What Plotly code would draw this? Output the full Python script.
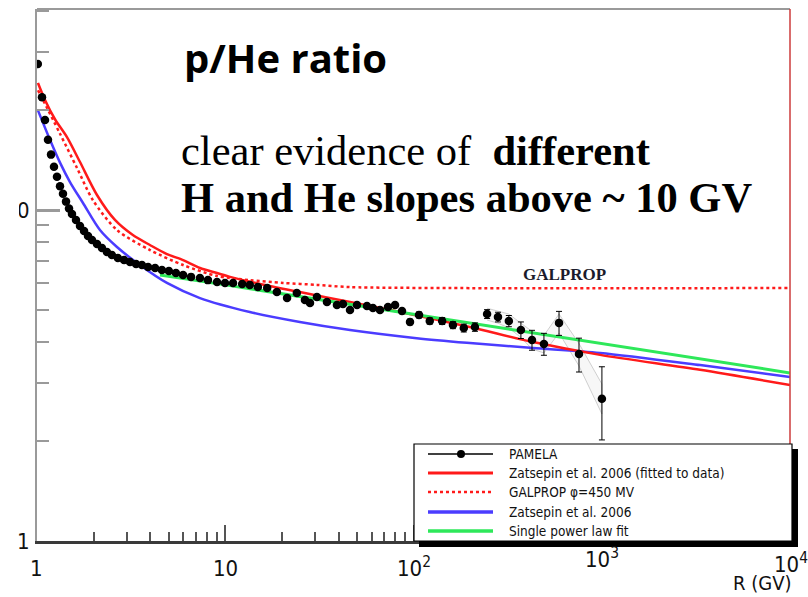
import math
import plotly.graph_objects as go

# ---- PAMELA p/He flux ratio vs rigidity ----
pamela_R = [1.01, 1.063, 1.103, 1.144, 1.187, 1.231, 1.277, 1.325, 1.374, 1.426,
            1.479, 1.534, 1.611, 1.692, 1.778, 1.866, 1.96, 2.083, 2.214, 2.353,
            2.50, 2.69, 2.90, 3.12, 3.36, 3.61, 3.89, 4.24, 4.61, 5.02,
            5.47, 5.97, 6.58, 7.34, 8.09, 9.04, 9.97, 11.0, 12.3, 13.5,
            14.9, 16.7, 18.8, 21.3, 24.0, 26.5, 28.2, 30.7, 34.7, 39.2,
            42.2, 46.0, 50.1, 56.6, 60.9, 66.4, 73.2, 79.8, 86.9, 95.8,
            107, 122, 142, 162, 185, 212, 246, 281, 321, 372,
            426, 493, 593, 757, 1002]
pamela_ratio = [27.6, 21.9, 18.7, 16.3, 14.7, 13.5, 12.6, 11.8, 11.2, 10.6,
                10.1, 9.72, 9.33, 8.95, 8.64, 8.35, 8.11, 7.89, 7.68, 7.47,
                7.31, 7.16, 7.06, 6.96, 6.87, 6.82, 6.73, 6.68, 6.59, 6.54,
                6.45, 6.36, 6.28, 6.23, 6.14, 6.06, 6.02, 6.02, 5.98, 5.94,
                5.85, 5.81, 5.65, 5.42, 5.61, 5.35, 5.24, 5.46, 5.27, 5.16,
                5.20, 4.99, 5.16, 5.13, 5.06, 4.99, 5.09, 5.16, 4.95, 4.59,
                4.82, 4.62, 4.62, 4.49, 4.40, 4.43, 4.85, 4.75, 4.62, 4.34,
                4.05, 3.94, 4.56, 3.67, 2.69]
pamela_err = [0.10, 0.08, 0.07, 0.06, 0.05, 0.05, 0.05, 0.04, 0.04, 0.04,
              0.04, 0.04, 0.04, 0.04, 0.04, 0.04, 0.04, 0.04, 0.04, 0.04,
              0.04, 0.04, 0.04, 0.04, 0.04, 0.04, 0.04, 0.04, 0.04, 0.04,
              0.04, 0.04, 0.04, 0.04, 0.04, 0.04, 0.04, 0.04, 0.04, 0.05,
              0.05, 0.05, 0.05, 0.05, 0.05, 0.05, 0.05, 0.06, 0.06, 0.06,
              0.06, 0.06, 0.07, 0.07, 0.07, 0.08, 0.08, 0.08, 0.09, 0.09,
              0.10, 0.10, 0.11, 0.11, 0.12, 0.13, 0.15, 0.16, 0.18, 0.25,
              0.28, 0.30, 0.38, 0.43, 0.67]

# systematic band at the highest rigidities
sys_R = [246, 281, 321, 372, 426, 493, 593, 757, 1002]
sys_hi = [5.05, 4.95, 4.85, 4.55, 4.30, 4.18, 4.85, 3.95, 2.98]
sys_lo = [4.65, 4.55, 4.40, 4.12, 3.80, 3.70, 4.25, 3.38, 2.42]

# ---- model curves ----
zats_fit_R = [1.012, 1.103, 1.246, 1.443, 1.692, 2.083, 2.595, 3.23, 3.98, 4.90,
              5.97, 7.34, 9.04, 10.6, 15.3, 24.9, 46.0, 84.8, 199, 432, 980, 3330, 10000]
zats_fit_ratio = [24.2, 21.5, 18.8, 16.6, 13.96, 11.1, 9.33, 8.40, 7.84, 7.36,
                  7.06, 6.68, 6.45, 6.28, 5.98, 5.65, 5.27, 4.92, 4.43, 3.99, 3.65, 3.29, 2.96]

galprop_R = [1.012, 1.076, 1.325, 1.631, 1.983, 2.66, 3.98, 5.97, 9.04, 13.5,
             20.3, 30.7, 46.0, 156, 10000]
galprop_ratio = [23.0, 21.5, 17.0, 13.4, 10.7, 8.70, 7.57, 6.82, 6.32, 6.14,
                 6.02, 5.94, 5.85, 5.81, 5.81]

zats_R = [1.012, 1.172, 1.325, 1.497, 1.755, 2.16, 2.66, 3.52, 4.90, 7.34,
          13.5, 24.9, 46.0, 104, 192, 432, 980, 3330, 10000]
zats_ratio = [20.0, 16.3, 13.9, 12.15, 10.5, 8.70, 7.73, 6.82, 6.02, 5.42,
              4.92, 4.59, 4.34, 4.10, 3.97, 3.83, 3.70, 3.40, 3.13]

plfit_R = [4.5, 10, 100, 1000, 10000]
plfit_ratio = [6.36, 5.94, 4.84, 3.95, 3.22]

x_tick_vals = [1, 10, 100, 1000, 10000]
x_tick_text = ["1", "10", "10<sup>2</sup>", "10<sup>3</sup>", "10<sup>4</sup>"]
y_tick_vals = [1, 10]
y_tick_text = ["1", "10"]

legend_labels = ["PAMELA", "Zatsepin et al. 2006 (fitted to data)", "GALPROP \u03c6=450 MV",
                 "Zatsepin et al. 2006", "Single power law fit"]

RED = "#ff1a1a"
BLUE = "#4b3cff"
GREEN = "#2ee85a"

# ---- canvas geometry (pixels) ----
W, H = 808, 597
ML, MR, MT, MB = 37, 18, 9, 56
PW, PH = W - ML - MR, H - MT - MB


def px(x):
    return (x - ML) / PW


def py(y):
    return (H - MB - y) / PH


NARROW = "Liberation Sans Narrow, Arial Narrow, DejaVu Sans Condensed, sans-serif"
SERIF = "Liberation Serif, Times New Roman, serif"

fig = go.Figure()

fig.add_trace(go.Scatter(
    x=sys_R + sys_R[::-1], y=sys_hi + sys_lo[::-1], mode="lines", fill="toself",
    fillcolor="rgba(190,190,190,0.12)", line=dict(color="rgba(150,150,150,0.55)", width=0.8),
    hoverinfo="skip", showlegend=False))

fig.add_trace(go.Scatter(x=galprop_R, y=galprop_ratio, mode="lines",
                         line=dict(color=RED, width=2.5, dash="dot", shape="spline", smoothing=0.8),
                         name=legend_labels[2]))
fig.add_trace(go.Scatter(x=zats_R, y=zats_ratio, mode="lines",
                         line=dict(color=BLUE, width=2.5, shape="spline", smoothing=0.8),
                         name=legend_labels[3]))
fig.add_trace(go.Scatter(x=zats_fit_R, y=zats_fit_ratio, mode="lines",
                         line=dict(color=RED, width=2.5, shape="spline", smoothing=0.8),
                         name=legend_labels[1]))
fig.add_trace(go.Scatter(x=plfit_R, y=plfit_ratio, mode="lines",
                         line=dict(color=GREEN, width=3), name=legend_labels[4]))
fig.add_trace(go.Scatter(
    x=pamela_R, y=pamela_ratio, mode="markers", name=legend_labels[0],
    marker=dict(color="black", size=8.5),
    error_y=dict(type="data", array=pamela_err, color="black", thickness=1, width=3)))

fig.update_xaxes(
    type="log", range=[0, 4], showgrid=False, zeroline=False,
    showline=True, linecolor="#3a3a3a", linewidth=3,
    tickmode="array", tickvals=x_tick_vals, ticks="inside", ticklen=16,
    tickcolor="#555", tickwidth=1.5, showticklabels=False,
    minor=dict(tickmode="array",
               tickvals=[m * 10 ** e for e in range(4) for m in range(2, 10)],
               ticks="inside", ticklen=9, tickcolor="#555", tickwidth=1.5))
fig.update_yaxes(
    type="log", range=[0, PH / 331], showgrid=False, zeroline=False,
    showline=True, linecolor="#9a9a9a", linewidth=2,
    tickmode="array", tickvals=y_tick_vals, ticktext=y_tick_text,
    ticks="inside", ticklen=23, tickcolor="#9a9a9a", tickwidth=2.5,
    ticklabelstandoff=1,
    tickfont=dict(family=NARROW, size=22, color="#111"),
    minor=dict(tickmode="array", tickvals=[2, 3, 4, 5, 6, 7, 8, 9, 20, 30, 40],
               ticks="inside", ticklen=12, tickcolor="#9a9a9a", tickwidth=2))

shapes = []
# frame pieces
shapes.append(dict(type="line", xref="paper", yref="paper", x0=0, x1=1, y0=1, y1=1,
                   line=dict(color="#9a9a9a", width=2), layer="above"))
shapes.append(dict(type="line", xref="paper", yref="paper", x0=1, x1=1, y0=py(444), y1=1,
                   line=dict(color="#cc3b3b", width=1.5), layer="above"))
# page edge strip over the far left of the axis labels
shapes.append(dict(type="rect", xref="paper", yref="paper", x0=px(-5), x1=px(19),
                   y0=py(230), y1=py(190), fillcolor="white", line=dict(width=0), layer="above"))

# legend box with drop shadow
shapes.append(dict(type="rect", xref="paper", yref="paper", x0=px(419), x1=px(798),
                   y0=py(547), y1=py(449), fillcolor="black", line=dict(width=0), layer="above"))
shapes.append(dict(type="rect", xref="paper", yref="paper", x0=px(414), x1=px(792),
                   y0=py(541), y1=py(444), fillcolor="white",
                   line=dict(color="black", width=1.2), layer="above"))

rows_y = [454, 473, 492, 512, 531]
sample_styles = [dict(color="black", width=1.3),
                 dict(color=RED, width=3),
                 dict(color=RED, width=2.5, dash="dot"),
                 dict(color=BLUE, width=3.5),
                 dict(color=GREEN, width=3.5)]
for yy, st in zip(rows_y, sample_styles):
    shapes.append(dict(type="line", xref="paper", yref="paper", x0=px(428), x1=px(493),
                       y0=py(yy), y1=py(yy), line=st, layer="above"))
shapes.append(dict(type="circle", xref="paper", yref="paper", x0=px(457), x1=px(465),
                   y0=py(458), y1=py(450), fillcolor="black", line=dict(width=0), layer="above"))

annotations = []
for yy, lab in zip(rows_y, legend_labels):
    annotations.append(dict(text=lab, xref="paper", yref="paper", x=px(507), y=py(yy),
                            xanchor="left", yanchor="middle", showarrow=False,
                            font=dict(family=NARROW, size=13.5, color="#111")))

# x tick labels (pixel centre x, pixel bottom of label box)
x_label_pos = [(36, 583), (225, 583), (414, 583), (602, 574), (791, 579)]
for val, txt, (xp, yb) in zip(x_tick_vals, x_tick_text, x_label_pos):
    annotations.append(dict(text=txt, xref="x", yref="paper", x=math.log10(val), y=py(yb),
                            xshift=(xp - (ML + PW * math.log10(val) / 4)),
                            xanchor="center", yanchor="bottom", showarrow=False,
                            font=dict(family=NARROW, size=22, color="#111")))
annotations.append(dict(text="R (GV)", xref="paper", yref="paper", x=px(794), y=py(583),
                        xanchor="right", yanchor="middle", showarrow=False,
                        font=dict(family=NARROW, size=20, color="#111")))

# curve label and headline text
annotations.append(dict(text="<b>GALPROP</b>", xref="paper", yref="paper", x=px(564), y=py(274),
                        xanchor="center", yanchor="middle", showarrow=False,
                        font=dict(family=SERIF, size=17, color="#1b1b2b")))
annotations.append(dict(text="<b>p/He ratio</b>", xref="paper", yref="paper", x=px(182), y=py(57),
                        xanchor="left", yanchor="middle", showarrow=False,
                        font=dict(family="Open Sans, Lato, sans-serif", size=40, color="black")))
annotations.append(dict(text="clear evidence of &nbsp;<b>different</b>", xref="paper", yref="paper",
                        x=px(179), y=py(150), xanchor="left", yanchor="middle", showarrow=False,
                        font=dict(family=SERIF, size=42.5, color="black")))
annotations.append(dict(text="<b>H and He slopes above ~ 10 GV</b>", xref="paper", yref="paper",
                        x=px(179), y=py(197), xanchor="left", yanchor="middle", showarrow=False,
                        font=dict(family=SERIF, size=42.5, color="black")))

fig.update_layout(
    width=W, height=H,
    margin=dict(l=ML, r=MR, t=MT, b=MB, autoexpand=False),
    paper_bgcolor="white", plot_bgcolor="white",
    showlegend=False,
    shapes=shapes, annotations=annotations,
)

fig.write_html("out.html")
